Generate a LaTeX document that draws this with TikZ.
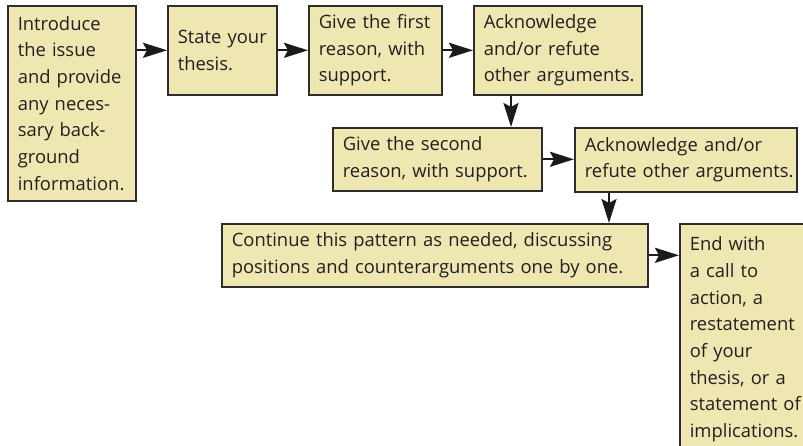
\documentclass[tikz,border=0pt]{standalone}
\usepackage{fontspec}
\setmainfont{Open Sans}
\usetikzlibrary{arrows.meta,calc}
\definecolor{boxfill}{RGB}{238,231,178}
\definecolor{boxline}{RGB}{45,45,45}
\definecolor{arrcol}{RGB}{28,26,28}
\definecolor{txtcol}{RGB}{35,31,32}
\hyphenpenalty=10000
\exhyphenpenalty=10000
\hbadness=10000
\hfuzz=30pt
\begin{document}
\begin{tikzpicture}[x=1pt,y=-1pt,
  box/.style={draw=boxline, fill=boxfill, line width=1.6pt, anchor=north west,
    inner xsep=10pt, inner ysep=0pt, align=left, text=txtcol,
    font=\fontsize{18.4}{26.7}\selectfont},
  arr/.style={draw=arrcol, line width=2.4pt,
    -{Stealth[length=24pt,width=15pt,inset=4pt]}}]
\useasboundingbox (0,0) rectangle (803,446);
\clip (0,0) rectangle (803,446);
\node[box, minimum width=128pt, minimum height=195pt, text width=108pt] (b1) at (7,5)
  {Introduce\\the~issue\\and~provide\\any~neces-\\sary~back-\\ground\\information.};
\node[box, minimum width=109pt, minimum height=89pt, text width=89pt] (b2) at (167,5)
  {State~your\\thesis.};
\node[box, minimum width=133pt, minimum height=89pt, text width=113pt] (b3) at (308,5)
  {Give~the~first\\reason,~with\\support.};
\node[box, minimum width=168pt, minimum height=89pt, text width=148pt] (b4) at (473,5)
  {\mbox{Acknowledge}\\\mbox{and/or~refute}\\\mbox{other~arguments.}};
\node[box, minimum width=209pt, minimum height=63pt, text width=189pt] (b5) at (332,127)
  {Give~the~second\\reason,~with~support.};
\node[box, minimum width=222pt, minimum height=64pt, text width=202pt] (b6) at (574,127)
  {\mbox{Acknowledge~and/or}\\\mbox{refute~other~arguments.}};
\node[box, minimum width=426pt, minimum height=63pt, text width=406pt] (b7) at (221,223)
  {Continue~this~pattern~as~needed,~discussing\\positions~and~counterarguments~one~by~one.};
\node[box, inner ysep=13pt, text width=120pt] (b8) at (679,223)
  {End~with\\a~call~to\\action,~a\\restatement\\of~your\\thesis,~or~a\\statement~of\\implications.};
\draw[arr] (b1.east |- b2.west) -- (b2.west);
\draw[arr] (b2.east) -- (b3.west);
\draw[arr] (b3.east) -- (b4.west);
\draw[arr] ([xshift=38pt]b4.south west) -- ([xshift=38pt]b4.south west |- b5.north);
\draw[arr] (b5.east) -- (b5.east -| b6.west);
\draw[arr] ([xshift=35pt]b6.south west) -- ([xshift=35pt]b6.south west |- b7.north);
\draw[arr] (b7.east) -- (b7.east -| b8.west);
\end{tikzpicture}
\end{document}
